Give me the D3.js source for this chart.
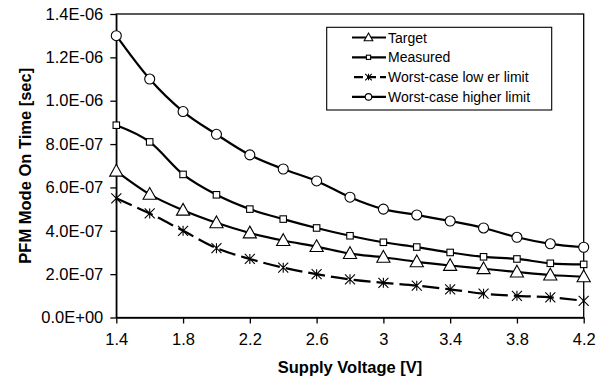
<!DOCTYPE html>
<html><head><meta charset="utf-8">
<script src="https://cdn.jsdelivr.net/npm/d3@7"></script>
<style>
html,body{margin:0;padding:0;background:#fff;}
svg{display:block;font-family:Arial,"Liberation Sans",sans-serif;}
</style></head>
<body>
<svg id="chart" width="613" height="381"></svg>
<script>
const voltages = [1.4,1.6,1.8,2.0,2.2,2.4,2.6,2.8,3.0,3.2,3.4,3.6,3.8,4.0,4.2];
const target   = [6.75e-7,5.68e-7,4.95e-7,4.37e-7,3.9e-7,3.55e-7,3.27e-7,2.95e-7,2.78e-7,2.57e-7,2.4e-7,2.25e-7,2.1e-7,1.96e-7,1.88e-7];
const measured = [8.87e-7,8.1e-7,6.6e-7,5.66e-7,5.0e-7,4.54e-7,4.13e-7,3.77e-7,3.47e-7,3.25e-7,3.0e-7,2.8e-7,2.7e-7,2.5e-7,2.45e-7];
const lowerLimit = [5.5e-7,4.8e-7,4.0e-7,3.2e-7,2.7e-7,2.3e-7,2.0e-7,1.76e-7,1.6e-7,1.47e-7,1.3e-7,1.1e-7,1.0e-7,0.93e-7,0.77e-7];
const higherLimit = [1.3e-6,1.1e-6,9.5e-7,8.45e-7,7.5e-7,6.85e-7,6.3e-7,5.55e-7,5.0e-7,4.73e-7,4.45e-7,4.13e-7,3.7e-7,3.4e-7,3.24e-7];
const seriesNames = ["Target","Measured","Worst-case low er limit","Worst-case higher limit"];
const xTicks = [1.4,1.8,2.2,2.6,3.0,3.4,3.8,4.2];
const xTickLabels = ["1.4","1.8","2.2","2.6","3","3.4","3.8","4.2"];
const yTicks = [0,2e-7,4e-7,6e-7,8e-7,1.0e-6,1.2e-6,1.4e-6];
const yTickLabels = ["0.0E+00","2.0E-07","4.0E-07","6.0E-07","8.0E-07","1.0E-06","1.2E-06","1.4E-06"];

const svg = d3.select("#chart");
const L = 116.3, R = 583.7, T = 14, B = 317.5;
const x = d3.scaleLinear().domain([1.4,4.2]).range([L,R]);
const y = d3.scaleLinear().domain([0,1.4e-6]).range([B,T]);

svg.append("rect").attr("width",613).attr("height",381).attr("fill","#fff");

// plot frame
svg.append("rect").attr("x",L).attr("y",T).attr("width",R-L).attr("height",B-T)
  .attr("fill","none").attr("stroke","#000").attr("stroke-width",1.3);

// axes
const xAxis = d3.axisBottom(x).tickValues(xTicks).tickFormat((d,i)=>xTickLabels[i]).tickSize(6).tickSizeOuter(0).tickPadding(10);
const gx = svg.append("g").attr("transform",`translate(0,${B})`).call(xAxis);
const yAxis = d3.axisLeft(y).tickValues(yTicks).tickFormat((d,i)=>yTickLabels[i]).tickSize(6).tickSizeOuter(0).tickPadding(7);
const gy = svg.append("g").attr("transform",`translate(${L},0)`).call(yAxis);
[gx,gy].forEach(g=>{
  g.select(".domain").attr("stroke","#000").attr("stroke-width",1.3);
  g.selectAll(".tick line").attr("stroke","#000").attr("stroke-width",1.3);
  g.selectAll(".tick text").attr("fill","#000").attr("font-size",16.5)
    .attr("font-family","Arial,'Liberation Sans',sans-serif");
});

// axis titles
svg.append("text").attr("x",(L+R)/2).attr("y",373).attr("text-anchor","middle")
  .attr("font-size",16.5).attr("font-weight","bold").text("Supply Voltage [V]");
svg.append("text").attr("transform",`translate(31,${(T+B)/2}) rotate(-90)`).attr("text-anchor","middle")
  .attr("font-size",16.5).attr("font-weight","bold").text("PFM Mode On Time [sec]");

const line = d3.line().x((d,i)=>x(voltages[i])).y(d=>y(d)).curve(d3.curveCardinal.tension(0));

function marker(g, type, cx, cy, s){
  if(type==="tri"){
    const h = s*1.0;
    g.append("path").attr("d",`M${cx},${cy-h*0.62}L${cx+s*0.6},${cy+h*0.45}L${cx-s*0.6},${cy+h*0.45}Z`)
      .attr("fill","#fff").attr("stroke","#000").attr("stroke-width",1.1);
  } else if(type==="sq"){
    g.append("rect").attr("x",cx-s/2).attr("y",cy-s/2).attr("width",s).attr("height",s)
      .attr("fill","#fff").attr("stroke","#000").attr("stroke-width",1.1);
  } else if(type==="circ"){
    g.append("circle").attr("cx",cx).attr("cy",cy).attr("r",s/2)
      .attr("fill","#fff").attr("stroke","#000").attr("stroke-width",1.1);
  } else if(type==="star"){
    const r = s/2;
    g.append("path").attr("d",`M${cx-r},${cy-r}L${cx+r},${cy+r}M${cx-r},${cy+r}L${cx+r},${cy-r}M${cx},${cy-r}L${cx},${cy+r}`)
      .attr("fill","none").attr("stroke","#000").attr("stroke-width",1.1);
  }
}

const series = [
  {name:seriesNames[0], data:target, m:"tri", size:11, dash:null},
  {name:seriesNames[1], data:measured, m:"sq", size:6.5, dash:null},
  {name:seriesNames[2], data:lowerLimit, m:"star", size:10, dash:"17,6"},
  {name:seriesNames[3], data:higherLimit, m:"circ", size:10, dash:null}
];

series.forEach(s=>{
  svg.append("path").attr("d",line(s.data)).attr("fill","none").attr("stroke","#000")
    .attr("stroke-width",2.2).attr("stroke-dasharray",s.dash);
});
series.forEach(s=>{
  const g = svg.append("g");
  s.data.forEach((v,i)=>marker(g,s.m,x(voltages[i]),y(v),s.size));
});

// legend
const lg = svg.append("g");
lg.append("rect").attr("x",326.7).attr("y",27.3).attr("width",225).attr("height",82.7)
  .attr("fill","#fff").attr("stroke","#000").attr("stroke-width",1.1);
series.forEach((s,i)=>{
  const cy = 37.5 + i*19.8;
  lg.append("line").attr("x1",352).attr("x2",386).attr("y1",cy).attr("y2",cy)
    .attr("stroke","#000").attr("stroke-width",2.2).attr("stroke-dasharray",s.dash?"9,4":null)
    .attr("stroke-dashoffset",s.dash?-2:null);
  marker(lg,s.m,368.5,cy,s.size*0.65);
  lg.append("text").attr("x",388).attr("y",cy+5).attr("font-size",14).attr("fill","#000").text(s.name);
});
</script>
</body></html>
